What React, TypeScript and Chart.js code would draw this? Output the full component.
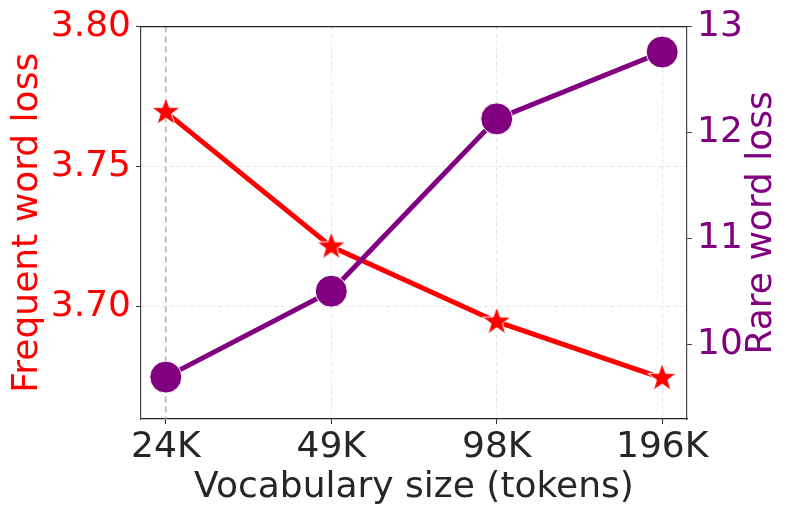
import React, { useEffect, useRef } from "react";
import { Chart, registerables } from "chart.js";

Chart.register(...registerables);

const categories = ["24K", "49K", "98K", "196K"];
const frequentLoss = [3.7695, 3.7215, 3.6947, 3.6746];
const rareLoss = [9.695, 10.505, 12.13, 12.76];
const leftTicks = [3.7, 3.75, 3.8];
const rightTicks = [10, 11, 12, 13];

const RED = "#ff0000";
const PURPLE = "#800080";
const DARK = "#262626";
const FONT = "'DejaVu Sans', sans-serif";
const RIGHT_TITLE = "Rare word loss";

function makeStar(radius: number, color: string): HTMLCanvasElement {
  const size = Math.ceil(radius * 2 + 4);
  const c = document.createElement("canvas");
  c.width = size;
  c.height = size;
  const ctx = c.getContext("2d")!;
  const cx = size / 2;
  const cy = size / 2;
  const inner = radius * 0.4;
  ctx.beginPath();
  for (let i = 0; i < 10; i++) {
    const r = i % 2 === 0 ? radius : inner;
    const a = -Math.PI / 2 + (i * Math.PI) / 5;
    const x = cx + r * Math.cos(a);
    const y = cy + r * Math.sin(a);
    if (i === 0) ctx.moveTo(x, y);
    else ctx.lineTo(x, y);
  }
  ctx.closePath();
  ctx.fillStyle = color;
  ctx.fill();
  ctx.lineWidth = 1;
  ctx.strokeStyle = "#ffffff";
  ctx.stroke();
  return c;
}

const framePlugin = {
  id: "frame",
  beforeDatasetsDraw(chart: any) {
    const { ctx, chartArea, scales } = chart;
    const xs = scales.x;
    const px = xs.getPixelForValue(0);
    ctx.save();
    ctx.strokeStyle = "#b0b0b0";
    ctx.lineWidth = 1.5;
    ctx.setLineDash([6, 4]);
    ctx.beginPath();
    ctx.moveTo(px, chartArea.top);
    ctx.lineTo(px, chartArea.bottom);
    ctx.stroke();
    ctx.restore();
  },
  afterDraw(chart: any) {
    const { ctx, chartArea } = chart;
    ctx.save();
    ctx.strokeStyle = "#222222";
    ctx.lineWidth = 1.2;
    ctx.beginPath();
    ctx.moveTo(chartArea.left, chartArea.top);
    ctx.lineTo(chartArea.right, chartArea.top);
    ctx.stroke();
    ctx.restore();

    // right axis title, reading bottom-to-top
    ctx.save();
    ctx.translate(762, (chartArea.top + chartArea.bottom) / 2);
    ctx.rotate(-Math.PI / 2);
    ctx.font = `36px ${FONT}`;
    ctx.fillStyle = PURPLE;
    ctx.textAlign = "center";
    ctx.textBaseline = "middle";
    ctx.fillText(RIGHT_TITLE, 0, 0);
    ctx.restore();
  },
};

export default function App() {
  const ref = useRef<HTMLCanvasElement | null>(null);

  useEffect(() => {
    if (!ref.current) return;
    const star = makeStar(15, RED);
    const chart = new Chart(ref.current, {
      type: "line",
      data: {
        datasets: [
          {
            label: "Frequent word loss",
            data: frequentLoss.map((v, i) => ({ x: i, y: v })),
            borderColor: RED,
            backgroundColor: RED,
            borderWidth: 5,
            pointStyle: star as any,
            pointRadius: 14,
            yAxisID: "y",
            order: 1,
          },
          {
            label: RIGHT_TITLE,
            data: rareLoss.map((v, i) => ({ x: i, y: v })),
            borderColor: PURPLE,
            backgroundColor: PURPLE,
            borderWidth: 5,
            pointStyle: "circle",
            pointRadius: 16,
            pointBorderColor: "#ffffff",
            pointBorderWidth: 1,
            yAxisID: "y1",
            order: 0,
          },
        ],
      },
      options: {
        animation: false,
        responsive: false,
        events: [],
        layout: { padding: { top: 25, left: 0, right: 0, bottom: 0 } },
        plugins: {
          legend: { display: false },
          tooltip: { enabled: false },
        },
        scales: {
          x: {
            type: "linear",
            min: -0.15,
            max: 3.15,
            afterBuildTicks: (s: any) => {
              s.ticks = categories.map((_, i) => ({ value: i }));
            },
            afterFit: (s: any) => {
              s.height = 96;
            },
            ticks: {
              callback: (v: any) => categories[Math.round(Number(v))] ?? "",
              color: DARK,
              font: { family: FONT, size: 36 },
              padding: 2,
              maxRotation: 0,
              autoSkip: false,
            },
            grid: {
              color: (c: any) => (c.index === 0 ? "rgba(0,0,0,0)" : "#e6e6e6"),
              tickColor: "#333333",
              tickLength: 5,
              lineWidth: 1,
            },
            border: { color: "#222222", width: 1.2, dash: [4, 3] },
            title: {
              display: true,
              text: "Vocabulary size (tokens)",
              color: DARK,
              font: { family: FONT, size: 36 },
              padding: { top: 0, bottom: 6 },
            },
          },
          y: {
            type: "linear",
            position: "left",
            min: 3.66,
            max: 3.8,
            afterBuildTicks: (s: any) => {
              s.ticks = leftTicks.map((v) => ({ value: v }));
            },
            afterFit: (s: any) => {
              s.width = 141;
            },
            ticks: {
              callback: (v: any) => Number(v).toFixed(2),
              color: RED,
              font: { family: FONT, size: 36 },
              padding: 5,
            },
            grid: {
              color: "#e6e6e6",
              tickColor: "#333333",
              tickLength: 5,
              lineWidth: 1,
            },
            border: { color: "#444444", width: 1.2, dash: [4, 3] },
            title: {
              display: true,
              text: "Frequent word loss",
              color: RED,
              font: { family: FONT, size: 36 },
              padding: { top: 6, bottom: 0 },
            },
          },
          y1: {
            type: "linear",
            position: "right",
            min: 9.3,
            max: 13.0,
            afterBuildTicks: (s: any) => {
              s.ticks = rightTicks.map((v) => ({ value: v }));
            },
            afterFit: (s: any) => {
              s.width = 106;
            },
            ticks: {
              callback: (v: any) => String(v),
              color: PURPLE,
              font: { family: FONT, size: 36 },
              padding: 5,
            },
            grid: {
              drawOnChartArea: false,
              tickColor: "#444444",
              tickLength: 5,
            },
            border: { color: "#444444", width: 1.2 },
            title: { display: false },
          },
        },
      },
      plugins: [framePlugin],
    });
    return () => chart.destroy();
  }, []);

  return (
    <div style={{ position: "absolute", left: 0, top: 0, width: 793, height: 515, background: "#fff" }}>
      <canvas ref={ref} width={793} height={515} style={{ display: "block" }} />
    </div>
  );
}
